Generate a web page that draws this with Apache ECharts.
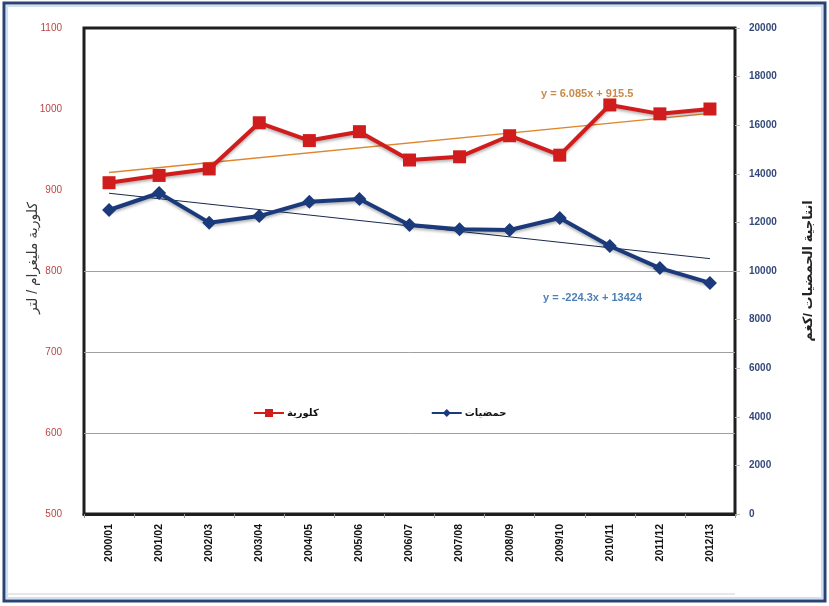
<!DOCTYPE html>
<html>
<head>
<meta charset="utf-8">
<script src="https://cdn.jsdelivr.net/npm/echarts@6/dist/echarts.min.js"></script>
<style>
html,body{margin:0;padding:0;background:#fff;}
#chart{width:829px;height:606px;}
</style>
</head>
<body>
<div id="chart"></div>
<script>
var categories = ['2000/01','2001/02','2002/03','2003/04','2004/05','2005/06','2006/07','2007/08','2008/09','2009/10','2010/11','2011/12','2012/13'];
var chlorideValues = [909, 918, 926, 983, 961, 972, 937, 941, 967, 943, 1005, 994, 1000];
var citrusValues = [12510, 13210, 11990, 12260, 12850, 12960, 11890, 11720, 11690, 12180, 11030, 10120, 9510];
var chlorideTrend = [921.6, null, null, null, null, null, null, null, null, null, null, null, 994.6];
var citrusTrend = [13200, null, null, null, null, null, null, null, null, null, null, null, 10508];
var leftTicks = {min: 500, max: 1100, interval: 100};
var rightTicks = {min: 0, max: 20000, interval: 2000};
var gridValues = [600, 700, 800];
var chlorideName = 'كلورية';
var citrusName = 'حمضيات';
var leftTitle = 'كلورية مليغرام / لتر';
var rightTitle = 'انتاجية الحمضيات /كغم';
var chlorideEq = 'y = 6.085x + 915.5';
var citrusEq = 'y = -224.3x + 13424';

var FONT = '"Liberation Sans", "DejaVu Sans", Arial, sans-serif';
function plain(v){ return String(v); }
var chart = echarts.init(document.getElementById('chart'));
chart.setOption({
  animation: false,
  backgroundColor: '#fff',
  textStyle: {fontFamily: FONT},
  grid: {left: 84, right: 94, top: 28, bottom: 92, show: true, borderColor: '#1e1e1e', borderWidth: 3, backgroundColor: 'transparent'},
  legend: {
    data: [chlorideName, citrusName],
    left: 248, top: 403, itemGap: 112, itemWidth: 30, itemHeight: 10,
    textStyle: {fontSize: 10, fontWeight: 'bold', color: '#111', fontFamily: FONT, padding: [0,0,0,-2]}
  },
  graphic: [
    {type: 'rect', shape: {x: 4, y: 3, width: 821, height: 598}, style: {fill: 'none', stroke: '#2b4272', lineWidth: 3}, silent: true, z: 100},
    {type: 'rect', shape: {x: 7, y: 6, width: 815, height: 592}, style: {fill: 'none', stroke: '#cfe0f2', lineWidth: 2}, silent: true, z: 100},
    {type: 'line', shape: {x1: 8, y1: 594, x2: 735, y2: 594}, style: {stroke: '#cfcfcf', lineWidth: 1}, silent: true},
    {type: 'text', left: 541, top: 88, style: {text: chlorideEq, fill: '#c98a4a', font: 'bold 11px ' + FONT}, silent: true},
    {type: 'text', left: 543, top: 292, style: {text: citrusEq, fill: '#4f7fb5', font: 'bold 11px ' + FONT}, silent: true}
  ],
  xAxis: {
    type: 'category', data: categories, boundaryGap: true,
    axisLine: {show: true, lineStyle: {color: '#1e1e1e', width: 3}},
    axisTick: {show: true, length: 4, lineStyle: {color: '#999'}},
    axisLabel: {rotate: 90, interval: 0, margin: 10, fontSize: 10.5, fontWeight: 'bold', color: '#111', fontFamily: FONT}
  },
  yAxis: [
    {
      type: 'value', position: 'left', min: leftTicks.min, max: leftTicks.max, interval: leftTicks.interval,
      name: leftTitle, nameLocation: 'middle', nameRotate: 90, nameGap: 44, nameMoveOverlap: false,
      nameTextStyle: {fontSize: 14, color: '#3a3a3a', fontFamily: FONT, padding: [0, 0, 0, 26]},
      axisLine: {show: false}, axisTick: {show: false},
      splitLine: {show: false},
      axisLabel: {margin: 22, fontSize: 10, color: '#b84545', fontFamily: FONT, formatter: plain}
    },
    {
      type: 'value', position: 'right', min: rightTicks.min, max: rightTicks.max, interval: rightTicks.interval,
      name: rightTitle, nameLocation: 'middle', nameRotate: 90, nameGap: 67, nameMoveOverlap: false,
      nameTextStyle: {fontSize: 13, fontWeight: 'bold', color: '#222', fontFamily: FONT},
      axisLine: {show: false}, axisTick: {show: true, length: 5, lineStyle: {color: '#bbb'}},
      splitLine: {show: false},
      axisLabel: {margin: 14, fontSize: 10, fontWeight: 'bold', color: '#34497a', fontFamily: FONT, formatter: plain}
    }
  ],
  series: [
    {
      name: chlorideName, type: 'line', yAxisIndex: 0, data: chlorideValues,
      symbol: 'rect', symbolSize: 13, z: 5,
      lineStyle: {color: '#d01c1c', width: 4, shadowBlur: 3, shadowColor: 'rgba(0,0,0,0.3)', shadowOffsetY: 2},
      itemStyle: {color: '#d01c1c'},
      markLine: {
        silent: true, symbol: ['none','none'], label: {show: false},
        lineStyle: {color: '#a0a0a0', width: 1, type: 'solid'},
        data: gridValues.map(function(v){ return {yAxis: v}; })
      }
    },
    {
      name: citrusName, type: 'line', yAxisIndex: 1, data: citrusValues,
      symbol: 'diamond', symbolSize: 14, z: 5,
      lineStyle: {color: '#1b3a7c', width: 4, shadowBlur: 3, shadowColor: 'rgba(0,0,0,0.3)', shadowOffsetY: 2},
      itemStyle: {color: '#1b3a7c'}
    },
    {
      name: 'trend1', type: 'line', yAxisIndex: 0, data: chlorideTrend, connectNulls: true,
      symbol: 'none', silent: true, z: 4,
      lineStyle: {color: '#e0852c', width: 1.5}
    },
    {
      name: 'trend2', type: 'line', yAxisIndex: 1, data: citrusTrend, connectNulls: true,
      symbol: 'none', silent: true, z: 4,
      lineStyle: {color: '#1a2850', width: 1}
    }
  ]
});
</script>
</body>
</html>
